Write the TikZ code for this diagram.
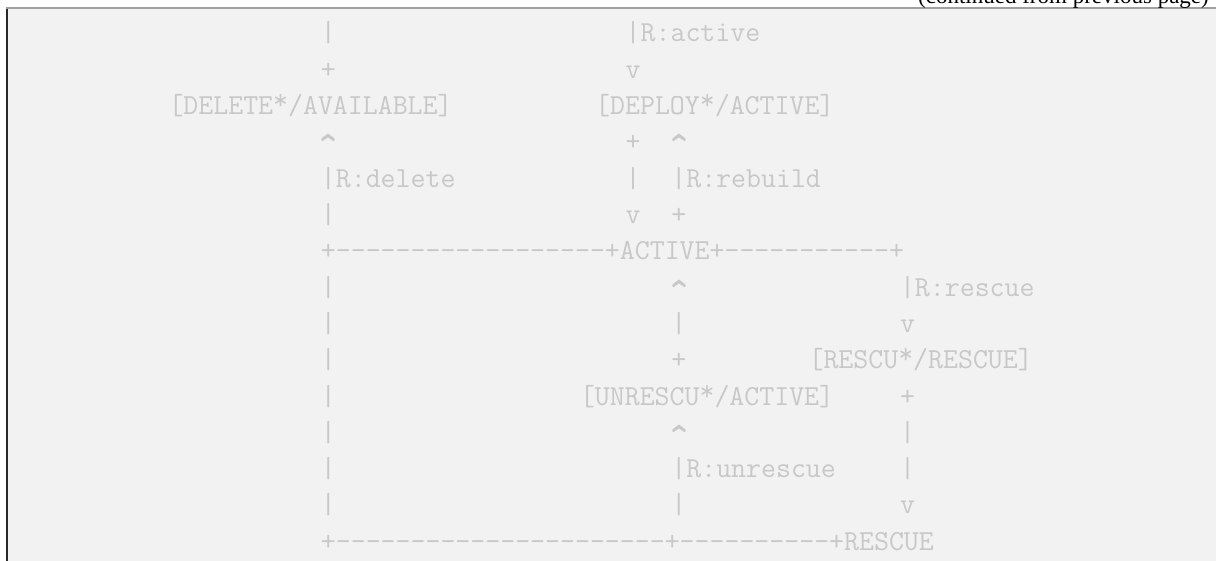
\documentclass[tikz,border=0pt]{standalone}
\usepackage{graphicx}
\usepackage{fontspec}
\setmainfont{Liberation Serif}
\definecolor{asciigray}{RGB}{200,200,200}
\definecolor{boxbg}{RGB}{242,242,242}
\definecolor{topline}{RGB}{160,160,160}
\definecolor{leftline}{RGB}{40,40,40}
\newcommand\tk[4]{\node[ascii] (#1) at ({320.9+15.24*(#2)},{42+36.3*(#3-1)}) {#4};}
\newcommand\caretch{\makebox[0.525em]{\raisebox{-0.62em}[0.55em][0pt]{\scalebox{1.2}[1.9]{\string^}}}}
\newcommand\starch{\raisebox{0.17em}{*}}
\begin{document}
\begin{tikzpicture}[x=1pt,y=-1pt,
  ascii/.style={anchor=base west, inner sep=0pt, outer sep=0pt, text=asciigray,
    font=\ttfamily\fontsize{29.03}{36}\selectfont},
  hdrtext/.style={anchor=base east, inner sep=0pt, font=\fontsize{23}{23}\selectfont}]
\useasboundingbox (0,0) rectangle (1216,561);
\fill[white] (0,0) rectangle (1216,561);
\fill[boxbg] (7,8.2) rectangle (1216,561);
\draw[topline, line width=1.5pt] (6.1,8.2) -- (1216,8.2);
\draw[leftline, line width=1.8pt] (7,8.9) -- (7,561);
\node[hdrtext] (hdr) at (1209,4) {(continued from previous page)};
% line 1
\tk{a1}{0}{1}{|}
\tk{a2}{20}{1}{|R:active}
% line 2
\tk{b1}{0}{2}{+}
\tk{b2}{20}{2}{v}
% line 3
\tk{c1}{-10}{3}{[DELETE\starch/AVAILABLE]}
\tk{c2}{18}{3}{[DEPLOY\starch/ACTIVE]}
% line 4
\tk{d1}{0}{4}{\caretch}
\tk{d2}{20}{4}{+}
\tk{d3}{23}{4}{\caretch}
% line 5
\tk{e1}{0}{5}{|R:delete}
\tk{e2}{20}{5}{|}
\tk{e3}{23}{5}{|R:rebuild}
% line 6
\tk{f1}{0}{6}{|}
\tk{f2}{20}{6}{v}
\tk{f3}{23}{6}{+}
% line 7
\tk{g1}{0}{7}{+------------------+ACTIVE+-----------+}
% line 8
\tk{h1}{0}{8}{|}
\tk{h2}{23}{8}{\caretch}
\tk{h3}{38}{8}{|R:rescue}
% line 9
\tk{i1}{0}{9}{|}
\tk{i2}{23}{9}{|}
\tk{i3}{38}{9}{v}
% line 10
\tk{j1}{0}{10}{|}
\tk{j2}{23}{10}{+}
\tk{j3}{32}{10}{[RESCU\starch/RESCUE]}
% line 11
\tk{k1}{0}{11}{|}
\tk{k2}{17}{11}{[UNRESCU\starch/ACTIVE]}
\tk{k3}{38}{11}{+}
% line 12
\tk{l1}{0}{12}{|}
\tk{l2}{23}{12}{\caretch}
\tk{l3}{38}{12}{|}
% line 13
\tk{m1}{0}{13}{|}
\tk{m2}{23}{13}{|R:unrescue}
\tk{m3}{38}{13}{|}
% line 14
\tk{n1}{0}{14}{|}
\tk{n2}{23}{14}{|}
\tk{n3}{38}{14}{v}
% line 15
\tk{o1}{0}{15}{+----------------------+----------+RESCUE}
\end{tikzpicture}
\end{document}
